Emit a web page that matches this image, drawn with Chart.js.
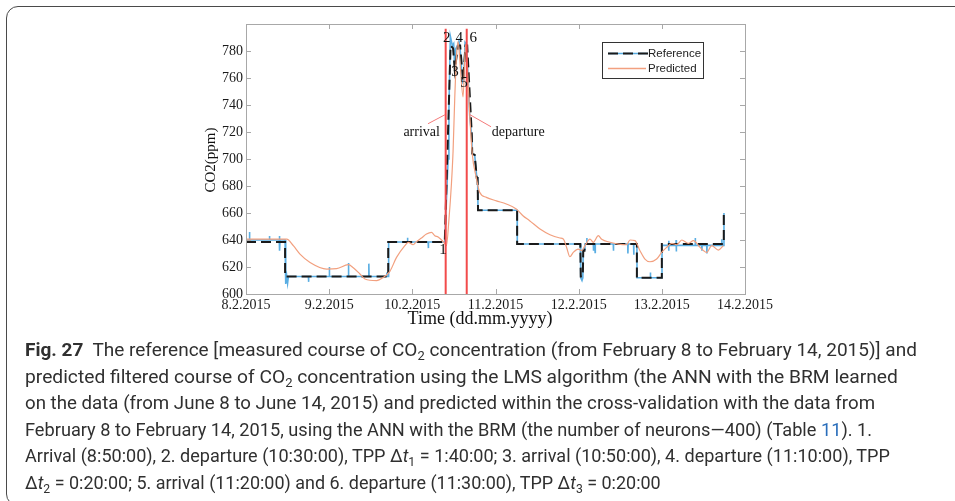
<!DOCTYPE html>
<html>
<head>
<meta charset="utf-8">
<script src="https://cdn.jsdelivr.net/npm/chart.js@4.4.1/dist/chart.umd.min.js"></script>
<style>
  html, body { margin: 0; padding: 0; background: #fff; width: 955px; height: 501px; overflow: hidden; }
  #frame { position: absolute; left: 6px; top: 6px; width: 990px; height: 500px; border: 1.5px solid #4a4a4a; border-radius: 12px; box-sizing: border-box; }
  #plot { position: absolute; left: 0; top: 0; }
  #caption { position: absolute; left: 25px; top: 337px; font-family: 'Roboto', 'Liberation Sans', sans-serif; font-size: 19px; line-height: 26.5px; color: #303030; white-space: nowrap; }
  #caption .ln { display: block; height: 26.5px; transform-origin: 0 50%; }
  #caption sub { font-size: 0.68em; vertical-align: -0.3em; line-height: 0; }
  #caption .ref { color: #2a6ebb; }
</style>
</head>
<body>
<div id="frame"></div>
<canvas id="plot" width="955" height="501"></canvas>
<div id="caption">
<span class="ln"><b>Fig. 27</b>&nbsp; The reference [measured course of CO<sub>2</sub> concentration (from February 8 to February 14, 2015)] and</span>
<span class="ln" style="transform: scaleX(1.012)">predicted filtered course of CO<sub>2</sub> concentration using the LMS algorithm (the ANN with the BRM learned</span>
<span class="ln" style="transform: scaleX(0.983)">on the data (from June 8 to June 14, 2015) and predicted within the cross-validation with the data from</span>
<span class="ln" style="transform: scaleX(0.957)">February 8 to February 14, 2015, using the ANN with the BRM (the number of neurons—400) (Table <span class="ref">11</span>). 1.</span>
<span class="ln" style="transform: scaleX(0.95)">Arrival (8:50:00), 2. departure (10:30:00), TPP Δ<i>t</i><sub>1</sub> = 1:40:00; 3. arrival (10:50:00), 4. departure (11:10:00), TPP</span>
<span class="ln" style="transform: scaleX(0.945)">Δ<i>t</i><sub>2</sub> = 0:20:00; 5. arrival (11:20:00) and 6. departure (11:30:00), TPP Δ<i>t</i><sub>3</sub> = 0:20:00</span>
</div>
<script>
// x values are days since 8.2.2015 00:00, y values are CO2 in ppm
const tickLabels = ['8.2.2015', '9.2.2015', '10.2.2015', '11.2.2015', '12.2.2015', '13.2.2015', '14.2.2015'];

// measured CO2 (raw, with short spikes)
const measured = [
  [0, 640], [0.04, 640], [0.042, 646], [0.045, 640], [0.28, 640], [0.282, 643], [0.285, 640],
  [0.40, 640], [0.402, 643], [0.405, 632], [0.41, 640], [0.47, 640], [0.475, 613], [0.48, 607.5],
  [0.49, 613], [0.50, 608], [0.51, 613], [0.75, 613], [0.752, 609], [0.755, 613], [1.0, 613],
  [1.002, 620], [1.005, 613], [1.23, 613], [1.232, 623], [1.235, 613], [1.475, 613], [1.477, 622.5],
  [1.48, 613], [1.69, 613], [1.692, 616], [1.695, 613], [1.71, 613], [1.715, 638.5], [1.94, 638.5],
  [1.942, 641.7], [1.945, 638.5], [2.19, 638.5], [2.192, 634], [2.195, 638.5], [2.39, 638.5],
  [2.43, 700], [2.44, 737], [2.457, 791], [2.481, 784], [2.497, 785.5], [2.509, 769], [2.521, 781.5],
  [2.549, 785], [2.561, 787.6], [2.578, 779], [2.602, 756.7], [2.618, 758], [2.634, 786.4], [2.65, 785],
  [2.67, 761.7], [2.69, 732], [2.714, 717], [2.72, 704], [2.75, 703], [2.775, 686], [2.785, 686],
  [2.79, 662], [3.26, 662], [3.262, 637], [4.02, 637], [4.025, 612], [4.04, 610], [4.05, 612],
  [4.055, 633], [4.07, 633], [4.075, 637], [4.096, 637], [4.098, 641.5], [4.1, 637], [4.176, 637],
  [4.178, 632], [4.18, 637], [4.196, 637], [4.198, 630.8], [4.2, 637], [4.416, 637], [4.418, 632],
  [4.42, 637], [4.59, 637], [4.592, 630], [4.595, 637], [4.66, 637], [4.662, 629], [4.665, 637],
  [4.70, 637], [4.702, 612], [4.86, 612], [4.862, 616], [4.865, 612], [5.0, 612], [5.002, 636],
  [5.08, 636], [5.082, 632], [5.084, 639.5], [5.086, 636], [5.17, 636], [5.172, 640], [5.174, 631.5],
  [5.176, 636], [5.40, 636], [5.402, 641.5], [5.404, 636], [5.48, 636], [5.482, 632], [5.484, 636],
  [5.54, 636], [5.542, 630], [5.544, 636], [5.72, 636], [5.722, 640.5], [5.724, 636], [5.745, 636],
  [5.747, 660]
];

// reference course (stepped)
const reference = [
  [0, 638.5], [0.47, 638.5], [0.47, 613], [1.71, 613], [1.71, 638.5], [2.39, 638.5], [2.46, 784],
  [2.49, 782], [2.51, 766], [2.55, 784], [2.575, 784], [2.61, 758], [2.64, 784], [2.66, 784],
  [2.715, 718], [2.72, 704], [2.75, 703], [2.775, 686], [2.785, 686], [2.79, 662], [3.26, 662],
  [3.26, 637], [4.02, 637], [4.025, 613], [4.05, 613], [4.055, 632], [4.07, 632], [4.075, 637],
  [4.70, 637], [4.70, 612], [5.00, 612], [5.00, 637], [5.745, 637], [5.745, 660]
];

// predicted filtered course
const predicted = [
  [0, 640.6], [0.49, 640.6], [0.569, 635.8], [0.649, 629.6], [0.77, 623.4], [0.97, 618.5],
  [1.09, 618.8], [1.23, 621.7], [1.29, 619.5], [1.37, 614.8], [1.43, 611.1], [1.571, 609.9],
  [1.65, 612.3], [1.73, 616.8], [1.81, 627.1], [1.91, 635.8], [1.95, 638.3], [2.01, 636.5],
  [2.05, 638.8], [2.11, 641.5], [2.17, 644.4], [2.23, 645.6], [2.27, 643.2], [2.31, 642.3],
  [2.372, 638.7], [2.41, 635.8], [2.44, 655], [2.47, 681.5], [2.49, 706], [2.51, 745], [2.53, 775],
  [2.55, 787], [2.575, 770], [2.61, 746], [2.64, 785], [2.66, 770], [2.69, 733], [2.72, 704],
  [2.77, 686], [2.81, 675.3], [2.89, 671.6], [3.01, 669], [3.13, 666.7], [3.25, 663], [3.33, 658],
  [3.41, 654.3], [3.535, 648.1], [3.655, 643.9], [3.775, 641.5], [3.815, 640.8], [3.855, 634.5],
  [3.895, 627.6], [3.935, 630.8], [3.995, 633.3], [4.036, 632.1], [4.076, 635.8], [4.136, 640.7],
  [4.176, 638.3], [4.236, 643.2], [4.277, 640.5], [4.377, 638.3], [4.477, 637], [4.577, 636.5],
  [4.617, 640], [4.677, 639.5], [4.737, 632.1], [4.797, 625.9], [4.857, 623.9], [4.938, 625.9],
  [4.998, 630.8], [5.058, 634.5], [5.12, 637.5], [5.18, 636.5], [5.24, 640], [5.32, 637.5],
  [5.38, 639.5], [5.46, 634.5], [5.54, 630.8], [5.60, 635.8], [5.68, 632.5], [5.74, 635.8]
];

// arrival / departure markers
const eventDays = [2.401, 2.654];
const eventTop = 796.5;
const eventLabels = ['1', '2', '3', '4', '5', '6'];
const eventLabelDays = [2.369, 2.413, 2.513, 2.565, 2.621, 2.733];
const eventLabelPpm = [632.8, 789.8, 764.7, 789.8, 756.5, 789.8];

const toXY = arr => arr.map(([x, y]) => ({ x, y }));
const serif = "'Liberation Serif', 'Times New Roman', serif";

// box around the axes with inward tick marks on all four sides
const axesBox = {
  id: 'axesBox',
  afterDatasetsDraw(chart) {
    const { ctx, chartArea: a, scales: { x, y } } = chart;
    ctx.save();
    ctx.strokeStyle = '#a8a8a8';
    ctx.lineWidth = 1;
    ctx.strokeRect(Math.round(a.left) + 0.5, Math.round(a.top) + 0.5, Math.round(a.right - a.left), Math.round(a.bottom - a.top));
    const len = 5;
    ctx.beginPath();
    x.ticks.forEach(t => {
      const px = Math.round(x.getPixelForValue(t.value)) + 0.5;
      ctx.moveTo(px, a.bottom); ctx.lineTo(px, a.bottom - len);
      ctx.moveTo(px, a.top); ctx.lineTo(px, a.top + len);
    });
    y.ticks.forEach(t => {
      const py = Math.round(y.getPixelForValue(t.value)) + 0.5;
      ctx.moveTo(a.left, py); ctx.lineTo(a.left + len, py);
      ctx.moveTo(a.right, py); ctx.lineTo(a.right - len, py);
    });
    ctx.stroke();
    ctx.restore();
  }
};

// event numbers, arrival/departure callouts, axis titles and legend
const decorations = {
  id: 'decorations',
  afterDraw(chart) {
    const { ctx, chartArea: a, scales: { x, y } } = chart;
    ctx.save();
    ctx.fillStyle = '#111';
    ctx.textAlign = 'center';
    ctx.textBaseline = 'middle';
    ctx.font = '15px ' + serif;
    eventLabels.forEach((t, i) => {
      ctx.fillText(t, x.getPixelForValue(eventLabelDays[i]), y.getPixelForValue(eventLabelPpm[i]));
    });

    // callouts
    ctx.strokeStyle = '#f47a7a';
    ctx.lineWidth = 1;
    ctx.beginPath();
    ctx.moveTo(x.getPixelForValue(2.188), y.getPixelForValue(726.1));
    ctx.lineTo(x.getPixelForValue(2.393), y.getPixelForValue(732.8));
    ctx.moveTo(x.getPixelForValue(2.693), y.getPixelForValue(732.8));
    ctx.lineTo(x.getPixelForValue(2.946), y.getPixelForValue(723.9));
    ctx.stroke();
    ctx.font = '14px ' + serif;
    ctx.fillText('arrival', x.getPixelForValue(2.112), y.getPixelForValue(719.7));
    ctx.fillText('departure', x.getPixelForValue(3.274), y.getPixelForValue(720));

    // axis titles
    ctx.font = '18px ' + serif;
    ctx.fillText('Time (dd.mm.yyyy)', 480, 319);
    ctx.save();
    ctx.translate(211.5, (a.top + a.bottom) / 2 + 1);
    ctx.rotate(-Math.PI / 2);
    ctx.font = '15px ' + serif;
    ctx.fillText('CO2(ppm)', 0, 0);
    ctx.restore();

    // legend
    const lx = 602, ly = 42, lw = 101, lh = 36;
    ctx.fillStyle = '#fff';
    ctx.fillRect(lx, ly, lw, lh);
    ctx.strokeStyle = '#333';
    ctx.lineWidth = 1;
    ctx.strokeRect(lx + 0.5, ly + 0.5, lw, lh);
    const r1 = ly + 11.5, r2 = ly + 26.5;
    ctx.strokeStyle = '#5aaee3';
    ctx.lineWidth = 1.6;
    ctx.beginPath(); ctx.moveTo(lx + 6, r1); ctx.lineTo(lx + 46, r1); ctx.stroke();
    ctx.strokeStyle = '#1a1a1a';
    ctx.lineWidth = 2;
    ctx.setLineDash([10, 5]);
    ctx.beginPath(); ctx.moveTo(lx + 6, r1); ctx.lineTo(lx + 46, r1); ctx.stroke();
    ctx.setLineDash([]);
    ctx.strokeStyle = '#f2a07f';
    ctx.lineWidth = 1.3;
    ctx.beginPath(); ctx.moveTo(lx + 6, r2); ctx.lineTo(lx + 44, r2); ctx.stroke();
    ctx.fillStyle = '#222';
    ctx.textAlign = 'left';
    ctx.font = "11.5px 'Liberation Sans', Arial, sans-serif";
    ctx.fillText('Reference', lx + 46, r1);
    ctx.fillText('Predicted', lx + 46, r2);
    ctx.restore();
  }
};

new Chart(document.getElementById('plot'), {
  type: 'line',
  data: {
    datasets: [
      { label: 'Reference', data: toXY(measured), borderColor: '#5aaee3', borderWidth: 1.6, pointRadius: 0, tension: 0, order: 5 },
      { label: 'Reference (step)', data: toXY(reference), borderColor: '#1a1a1a', borderWidth: 2, borderDash: [10, 5], pointRadius: 0, tension: 0, order: 4 },
      { label: 'Predicted', data: toXY(predicted), borderColor: '#f2a07f', borderWidth: 1.2, pointRadius: 0, cubicInterpolationMode: 'monotone', order: 3 },
      { label: 'arrival', data: [{ x: eventDays[0], y: 600 }, { x: eventDays[0], y: eventTop }], borderColor: '#f24b4b', borderWidth: 2, pointRadius: 0, order: 2 },
      { label: 'departure', data: [{ x: eventDays[1], y: 600 }, { x: eventDays[1], y: eventTop }], borderColor: '#f24b4b', borderWidth: 2, pointRadius: 0, order: 1 }
    ]
  },
  options: {
    responsive: false,
    animation: false,
    events: [],
    layout: { padding: { left: 0, right: 210, top: 24, bottom: 177 } },
    plugins: { legend: { display: false }, tooltip: { enabled: false } },
    scales: {
      x: {
        type: 'linear', min: 0, max: 6,
        afterFit(s) { s.height = 30; },
        grid: { display: false, drawTicks: false },
        border: { display: false },
        ticks: {
          stepSize: 1, autoSkip: false, maxRotation: 0, padding: 3, color: '#1a1a1a',
          font: { family: serif, size: 14 },
          callback: v => tickLabels[v]
        }
      },
      y: {
        min: 600, max: 800,
        afterFit(s) { s.width = 246; },
        grid: { display: false, drawTicks: false },
        border: { display: false },
        ticks: {
          stepSize: 20, padding: 3, color: '#1a1a1a',
          font: { family: serif, size: 14 },
          callback: v => (v < 800 ? String(v) : '')
        }
      }
    }
  },
  plugins: [axesBox, decorations]
});
</script>
</body>
</html>
